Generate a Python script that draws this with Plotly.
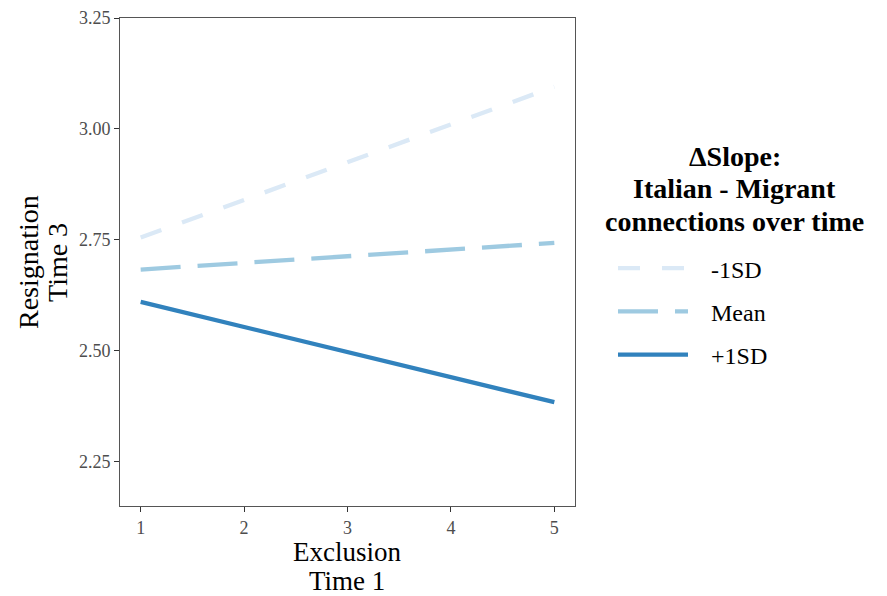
import plotly.graph_objects as go

exclusion = [1, 5]
minus_sd = [2.755, 3.095]
mean_vals = [2.683, 2.743]
plus_sd = [2.610, 2.384]

series_names = ["-1SD", "Mean", "+1SD"]
series_values = [minus_sd, mean_vals, plus_sd]
colors = ["#dbe9f6", "#9ecae1", "#3182bd"]
dashes = ["22px,22px", "40px,17px", "solid"]

x_ticks = [1, 2, 3, 4, 5]
y_ticks = [2.25, 2.50, 2.75, 3.00, 3.25]
y_tick_labels = ["2.25", "2.50", "2.75", "3.00", "3.25"]

legend_title_lines = ["ΔSlope:", "Italian - Migrant", "connections over time"]
x_title_lines = ["Exclusion", "Time 1"]
y_title_lines = ["Resignation", "Time 3"]

fig = go.Figure()
for i, (name, vals) in enumerate(zip(series_names, series_values)):
    fig.add_trace(go.Scatter(
        x=exclusion, y=vals, mode="lines", name="\u00a0\u00a0\u00a0" + name,
        legendgroup=name,
        line=dict(color=colors[i], width=4.3, dash=dashes[i]),
    ))

font_family = "Liberation Serif, Times New Roman, serif"

annotations = []
for text, yy in zip(legend_title_lines, [0.7152, 0.6496, 0.5840]):
    annotations.append(dict(text="<b>" + text + "</b>", x=1.3516, y=yy, xref="paper", yref="paper",
                            xanchor="center", yanchor="middle", showarrow=False,
                            font=dict(size=28, family=font_family, color="black")))
for text, yy in zip(x_title_lines, [-0.0933, -0.1530]):
    annotations.append(dict(text=text, x=0.499, y=yy, xref="paper", yref="paper",
                            xanchor="center", yanchor="middle", showarrow=False,
                            font=dict(size=27, family=font_family, color="black")))
for text, xx in zip(y_title_lines, [-0.2022, -0.1385]):
    annotations.append(dict(text=text, x=xx, y=0.5, xref="paper", yref="paper",
                            xanchor="center", yanchor="middle", showarrow=False, textangle=-90,
                            font=dict(size=28, family=font_family, color="black")))

fig.update_layout(
    width=879, height=588,
    margin=dict(l=112, r=312, t=10, b=90, autoexpand=False),
    paper_bgcolor="white", plot_bgcolor="white",
    font=dict(family=font_family, color="black"),
    showlegend=True,
    annotations=annotations,
    legend=dict(
        x=1.0835, y=0.5327, xanchor="left", yanchor="top",
        font=dict(size=24, family=font_family, color="black"),
        tracegroupgap=9,
        itemwidth=70,
        bgcolor="rgba(0,0,0,0)",
    ),
    xaxis=dict(
        range=[0.8, 5.2], tickvals=x_ticks, ticks="outside", ticklen=5,
        tickcolor="#333", tickfont=dict(size=18, color="#4d4d4d"),
        showline=True, linecolor="#555", linewidth=1, mirror=True,
        showgrid=False, zeroline=False,
    ),
    yaxis=dict(
        range=[2.15, 3.25], tickvals=y_ticks, ticktext=y_tick_labels,
        ticks="outside", ticklen=5,
        tickcolor="#333", tickfont=dict(size=18, color="#4d4d4d"),
        showline=True, linecolor="#555", linewidth=1, mirror=True,
        showgrid=False, zeroline=False,
    ),
)

fig.write_html("out.html")
